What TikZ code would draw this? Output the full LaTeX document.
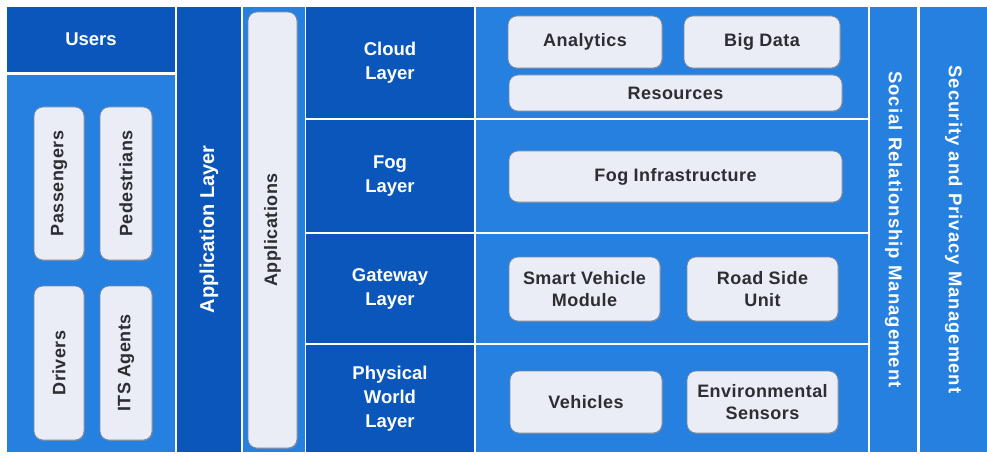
\documentclass[tikz,border=0pt]{standalone}
\usepackage{fontspec}
\setmainfont{Liberation Sans}
\usetikzlibrary{shadows}
\definecolor{darkb}{RGB}{10,86,186}
\definecolor{midb}{RGB}{38,128,224}
\definecolor{boxf}{RGB}{234,237,245}
\definecolor{boxd}{RGB}{120,135,160}
\definecolor{txt}{RGB}{45,45,50}
\tikzset{
  blk/.style={inner sep=0pt, outer sep=0pt, align=center, text=white, font=\bfseries\fontsize{18.5}{24}\selectfont},
  dblk/.style={blk, fill=darkb},
  mblk/.style={blk, fill=midb},
  mgmt/.style={mblk, font=\bfseries\fontsize{18.5}{24}\selectfont\addfontfeatures{LetterSpace=5.5}},
  lbox/.style={rounded corners=9pt, fill=boxf, draw=boxd, line width=0.7pt, inner sep=0pt, align=center, text=txt,
    font=\bfseries\fontsize{18}{22}\selectfont\addfontfeatures{LetterSpace=2.5},
    drop shadow={shadow xshift=0.8pt, shadow yshift=-1pt, fill=black!45, opacity=0.6}},
}
\begin{document}
\begin{tikzpicture}[x=1pt,y=-1pt]
\useasboundingbox[fill=white] (0,0) rectangle (987,457);
% users
\node[dblk, minimum width=168, minimum height=65] (users) at (91,39.5) {Users};
\node[mblk, minimum width=168, minimum height=377] (usersbody) at (91,263.5) {};
\node[lbox, rotate=90, minimum width=153, minimum height=50] (pass) at (59,183.5) {Passengers};
\node[lbox, rotate=90, minimum width=153, minimum height=52] (ped) at (126,183.5) {Pedestrians};
\node[lbox, rotate=90, minimum width=154, minimum height=50] (drv) at (59,363) {Drivers};
\node[lbox, rotate=90, minimum width=154, minimum height=52] (its) at (126,363) {ITS Agents};
% application
\node[dblk, rotate=90, minimum width=445, minimum height=64, font=\bfseries\fontsize{20}{24}\selectfont] (applayer) at (209,229.5) {Application Layer};
\node[mblk, minimum width=62, minimum height=445] (appsbg) at (274,229.5) {};
\node[lbox, rotate=90, minimum width=436, minimum height=49] (apps) at (272.5,230) {Applications};
% layer labels
\node[dblk, minimum width=168, minimum height=111] (cloud) at (390,62.5) {Cloud\\Layer};
\node[dblk, minimum width=168, minimum height=112] (fog) at (390,176) {Fog\\Layer};
\node[dblk, minimum width=168, minimum height=109] (gw) at (390,288.5) {Gateway\\Layer};
\node[dblk, minimum width=168, minimum height=107] (phys) at (390,398.5) {Physical\\World\\Layer};
% content rows
\node[mblk, minimum width=392, minimum height=111] (cloudc) at (672,62.5) {};
\node[mblk, minimum width=392, minimum height=112] (fogc) at (672,176) {};
\node[mblk, minimum width=392, minimum height=109] (gwc) at (672,288.5) {};
\node[mblk, minimum width=392, minimum height=107] (physc) at (672,398.5) {};
\node[lbox, minimum width=154, minimum height=52] (analytics) at (585,42) {Analytics};
\node[lbox, minimum width=156, minimum height=52] (bigdata) at (762,42) {Big Data};
\node[lbox, minimum width=333, minimum height=36] (res) at (675.5,93) {Resources};
\node[lbox, minimum width=333, minimum height=51] (foginf) at (675.5,176.5) {Fog Infrastructure};
\node[lbox, minimum width=151, minimum height=64] (svm) at (584.5,289) {Smart Vehicle\\Module};
\node[lbox, minimum width=151, minimum height=64] (rsu) at (762.5,289) {Road Side\\Unit};
\node[lbox, minimum width=152, minimum height=62] (veh) at (586,402) {Vehicles};
\node[lbox, minimum width=151, minimum height=62] (env) at (762.5,402) {Environmental\\Sensors};
% management columns
\node[mgmt, rotate=-90, minimum width=445, minimum height=47] (social) at (893.5,229.5) {Social Relationship Management};
\node[mgmt, rotate=-90, minimum width=445, minimum height=67] (sec) at (953.5,229.5) {Security and Privacy Management};
\end{tikzpicture}
\end{document}
